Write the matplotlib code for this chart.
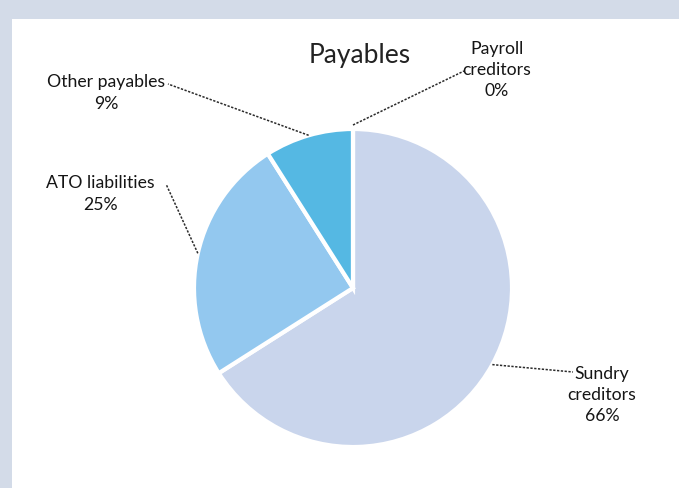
import matplotlib.pyplot as plt
from matplotlib.patches import Rectangle
import numpy as np

# Payables breakdown (percent of total)
categories = ['Sundry\ncreditors', 'ATO liabilities', 'Other payables', 'Payroll\ncreditors']
shares = [66, 25, 9, 0]
colours = ['#c9d5ec', '#93c8ef', '#55b8e3', '#2f8fc9']

# label anchors (pixel coords, y measured from the bottom)
label_xy = [(602, 93), (100, 294), (106, 395), (497, 418)]
# where each leader line meets its label
leader_end = [(573, 116), (166, 304), (168, 404), (464, 417)]

plt.rcParams['font.family'] = ['Lato', 'DejaVu Sans']

fig = plt.figure(figsize=(6.79, 4.88), dpi=100)
fig.patch.set_facecolor('#d3dbe8')
ax = fig.add_axes([0, 0, 1, 1])

# white chart area sitting on the grey border
ax.add_patch(Rectangle((12, 0), 680, 469, facecolor='white', edgecolor='none', zorder=0))

cx, cy, r = 353, 200, 159
wedges, _ = ax.pie(shares, colors=colours, startangle=90, counterclock=False,
                   center=(cx, cy), radius=r,
                   wedgeprops=dict(edgecolor='white', linewidth=3))

for w, cat, v, (lx, ly), (ex, ey) in zip(wedges, categories, shares, label_xy, leader_end):
    mid = np.deg2rad((w.theta1 + w.theta2) / 2)
    px, py = cx + r * np.cos(mid), cy + r * np.sin(mid)
    if v == 0:
        py += 4
    ax.plot([px, ex], [py, ey], color='#2b2b2b', lw=1.1, ls=(0, (1.5, 1)), zorder=3)
    ax.text(lx, ly, f'{cat}\n{v}%', ha='center', va='center', fontsize=12.7,
            color='#151515', linespacing=1.42, zorder=4)

ax.text(360, 433, 'Payables', ha='center', va='center', fontsize=19, color='#222222')

ax.set_xlim(0, 679)
ax.set_ylim(0, 488)
ax.set_aspect('equal')
ax.axis('off')

fig.savefig('out.png', dpi=100, facecolor=fig.get_facecolor())
